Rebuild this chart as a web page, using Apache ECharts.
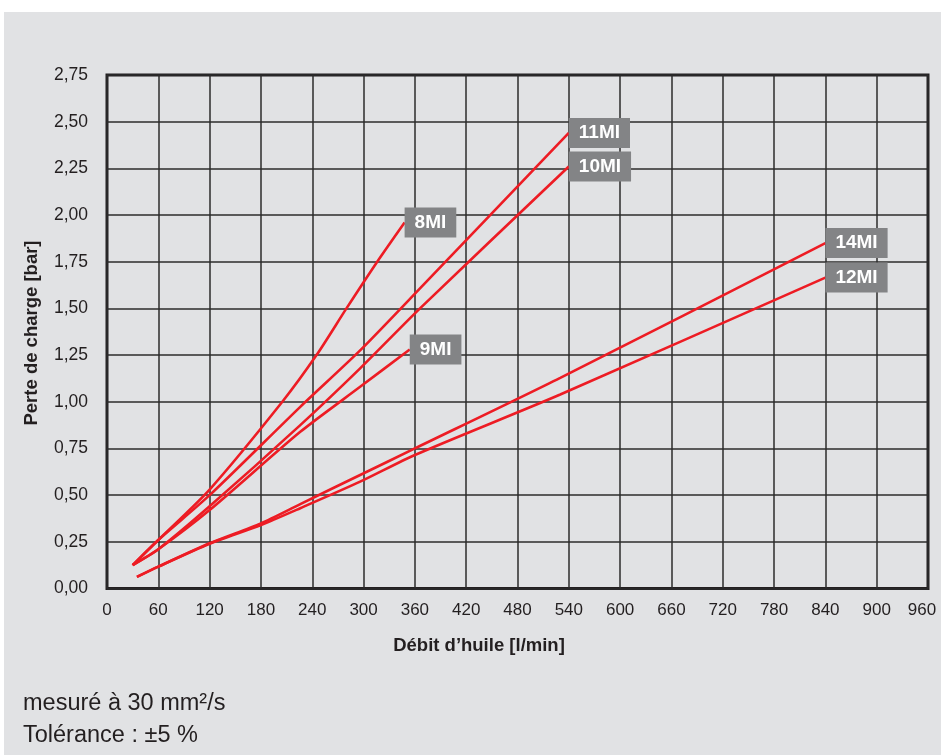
<!DOCTYPE html>
<html>
<head>
<meta charset="utf-8">
<script src="https://cdn.jsdelivr.net/npm/echarts@6/dist/echarts.min.js"></script>
<style>
  html, body { margin: 0; padding: 0; background: #ffffff; }
  #chart { position: absolute; left: 4px; top: 12px; width: 937px; height: 743px; }
</style>
</head>
<body>
<div id="chart"></div>
<script>
// Pressure loss curves for the MI filter sizes (flow in l/min, loss in bar)
const flow8  = [30, 60, 120, 205, 245, 280, 316, 348];
const loss8  = [0.125, 0.26, 0.53, 1.0, 1.25, 1.5, 1.75, 1.96];

const flow9  = [30, 60, 120, 226, 296, 354];
const loss9  = [0.125, 0.21, 0.42, 0.839, 1.08, 1.28];

const flow10 = [30, 60, 120, 226, 296, 366, 540];
const loss10 = [0.125, 0.21, 0.44, 0.875, 1.179, 1.50, 2.26];

const flow11 = [30, 60, 120, 226, 296, 366, 540];
const loss11 = [0.125, 0.26, 0.50, 0.973, 1.275, 1.607, 2.44];

const flow12 = [35, 60, 120, 180, 226, 296, 360, 530, 840];
const loss12 = [0.062, 0.117, 0.24, 0.34, 0.43, 0.572, 0.715, 1.039, 1.665];

const flow14 = [35, 60, 120, 180, 226, 296, 360, 530, 840];
const loss14 = [0.062, 0.117, 0.242, 0.349, 0.452, 0.608, 0.75, 1.128, 1.85];

const seriesNames = ['8MI', '9MI', '10MI', '11MI', '12MI', '14MI'];
const seriesFlows = [flow8, flow9, flow10, flow11, flow12, flow14];
const seriesLoss  = [loss8, loss9, loss10, loss11, loss12, loss14];

const xAxisTitle = 'Débit d\u2019huile [l/min]';
const yAxisTitle = 'Perte de charge [bar]';
const noteLines  = ['mesuré à 30 mm²/s', 'Tolérance : ±5 %'];

const FLOW_MAX = 960;
const FONT = '"Liberation Sans", Arial, Helvetica, sans-serif';
const RED = '#ed1c24';

const chart = echarts.init(document.getElementById('chart'));

const series = seriesNames.map((name, i) => ({
  name: name,
  type: 'line',
  data: seriesFlows[i].map((q, j) => [q, seriesLoss[i][j]]),
  showSymbol: false,
  smooth: 0.25,
  lineStyle: { color: RED, width: 2.6 },
  itemStyle: { color: RED },
  endLabel: {
    show: true,
    formatter: '{a}',
    distance: 0,
    color: '#ffffff',
    fontFamily: FONT,
    fontWeight: 'bold',
    fontSize: 19,
    lineHeight: 20,
    backgroundColor: '#838486',
    padding: [5, 10, 5, 10]
  },
  z: 5
}));

chart.setOption({
  animation: false,
  backgroundColor: '#e1e2e4',
  grid: {
    left: 103, right: 13, top: 63, bottom: 166.5,
    outerBoundsMode: 'none',
    containLabel: false,
    show: true, borderColor: '#231f20', borderWidth: 3,
    backgroundColor: 'transparent'
  },
  xAxis: {
    type: 'value', min: 0, max: FLOW_MAX, interval: 60,
    axisLine: { show: false },
    axisTick: { show: false },
    axisLabel: {
      color: '#231f20', fontFamily: FONT, fontSize: 17, margin: 13,
      // keep the last label inside the panel
      formatter: v => v === FLOW_MAX ? '{last|' + v + '}' : String(v),
      rich: { last: { fontFamily: FONT, fontSize: 17, color: '#231f20', padding: [0, 12, 0, 0] } }
    },
    splitLine: { show: true, lineStyle: { color: '#2b2b2b', width: 1.5 } }
  },
  yAxis: {
    type: 'value', min: 0, max: 2.75, interval: 0.25,
    axisLine: { show: false },
    axisTick: { show: false },
    axisLabel: {
      color: '#231f20', fontFamily: FONT, fontSize: 17.5, margin: 19,
      formatter: v => v.toFixed(2).replace('.', ',')
    },
    splitLine: { show: true, lineStyle: { color: '#2b2b2b', width: 1.5 } }
  },
  graphic: [
    {
      type: 'text', x: 479 - 4, y: 646 - 12,
      style: { text: xAxisTitle, fill: '#231f20', font: 'bold 18.5px ' + FONT,
               align: 'center', verticalAlign: 'middle' }
    },
    {
      type: 'text', x: 32 - 4, y: 333 - 12, rotation: Math.PI / 2,
      style: { text: yAxisTitle, fill: '#231f20', font: 'bold 18.5px ' + FONT,
               align: 'center', verticalAlign: 'middle' }
    },
    {
      type: 'text', x: 23 - 4, y: 704 - 12,
      style: { text: noteLines[0], fill: '#231f20', font: '23.5px ' + FONT,
               verticalAlign: 'middle' }
    },
    {
      type: 'text', x: 23 - 4, y: 736 - 12,
      style: { text: noteLines[1], fill: '#231f20', font: '23.5px ' + FONT,
               verticalAlign: 'middle' }
    }
  ],
  series: series
});
</script>
</body>
</html>
